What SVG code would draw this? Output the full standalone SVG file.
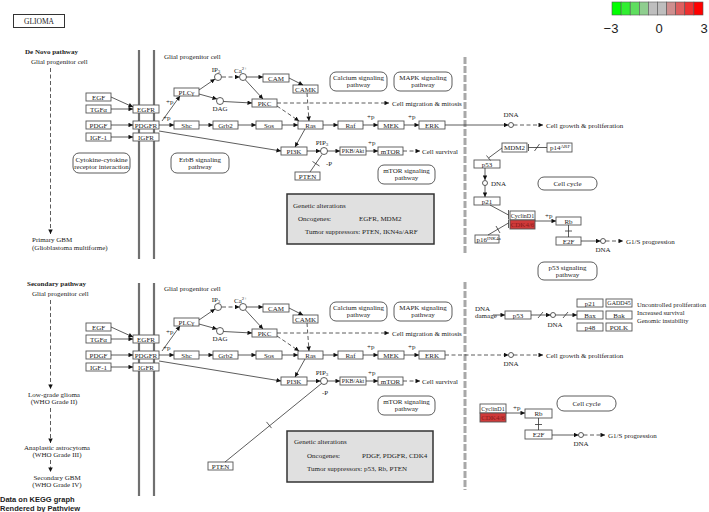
<svg xmlns="http://www.w3.org/2000/svg" width="709" height="512" viewBox="0 0 709 512">
<defs>
<marker id="ah" viewBox="0 0 10 10" refX="10" refY="5" markerWidth="5" markerHeight="4.5" markerUnits="userSpaceOnUse" orient="auto"><path d="M0,0 L10,5 L0,10 z" fill="#111"/></marker>
</defs>
<style>
text{font-family:"Liberation Serif","Times New Roman",serif;font-size:7px;fill:#222}
.c{text-anchor:middle}
.s6{font-size:6px}
.bx{fill:#fff;stroke:#555;stroke-width:0.9}
.red{fill:#cf3a3a;stroke:#555;stroke-width:0.9}
.rd{fill:#fff;stroke:#333;stroke-width:0.8}
.ln{fill:none;stroke:#333;stroke-width:0.8}
.ar{fill:none;stroke:#333;stroke-width:0.8;marker-end:url(#ah)}
.da{stroke-dasharray:4 2.5}
.mem{stroke:#707070;stroke-width:2.2}
.gd{stroke:#a8a8a8;stroke-width:3;stroke-dasharray:7 2}
.circ{fill:#fff;stroke:#333;stroke-width:0.8}
.ga{fill:#e0e0e0;stroke:#333;stroke-width:1.5}
.sub{font-size:5px}
.bold{font-weight:bold}
.sans{font-family:"Liberation Sans",Arial,sans-serif}
.leg{stroke:#555;stroke-width:0.6}
</style>
<rect width="709" height="512" fill="#fff"/>
<g style="opacity:0.999">

<!-- title -->
<g id="title"><rect x="13.5" y="14.5" width="51" height="13" fill="#fff" stroke="#333" stroke-width="1"/><text class="c" x="39" y="23.5" style="font-size:7.5px">GLIOMA</text></g>

<!-- legend -->
<g id="legend">
<rect class="leg" x="612" y="2" width="9.1" height="13" fill="#00ff00"/>
<rect class="leg" x="621.1" y="2" width="9.1" height="13" fill="#30ef30"/>
<rect class="leg" x="630.2" y="2" width="9.1" height="13" fill="#5fde5f"/>
<rect class="leg" x="639.3" y="2" width="9.1" height="13" fill="#8fce8f"/>
<rect class="leg" x="648.4" y="2" width="9.1" height="13" fill="#bebebe"/>
<rect class="leg" x="657.5" y="2" width="9.1" height="13" fill="#bebebe"/>
<rect class="leg" x="666.6" y="2" width="9.1" height="13" fill="#ce8f8f"/>
<rect class="leg" x="675.7" y="2" width="9.1" height="13" fill="#de5f5f"/>
<rect class="leg" x="684.8" y="2" width="9.1" height="13" fill="#ef3030"/>
<rect class="leg" x="693.9" y="2" width="9.1" height="13" fill="#ff0000"/>
<text class="sans c" x="611" y="33" style="font-size:13px">−3</text>
<text class="sans c" x="659" y="33" style="font-size:13px">0</text>
<text class="sans c" x="704" y="33" style="font-size:13px">3</text>
</g>

<!-- membranes and compartments -->
<g id="membranes">
<line class="mem" x1="139" y1="50" x2="139" y2="259"/>
<line class="mem" x1="154" y1="50" x2="154" y2="259"/>
<line class="mem" x1="139" y1="283" x2="139" y2="496"/>
<line class="mem" x1="154" y1="283" x2="154" y2="496"/>
<line class="gd" x1="465" y1="57" x2="465" y2="253"/>
<line class="gd" x1="465" y1="282" x2="465" y2="490"/>
</g>

<!-- left side labels -->
<g id="left-labels">
<text class="bold" x="25" y="54">De Novo pathway</text>
<text x="31" y="64">Glial progenitor cell</text>
<text x="164" y="59">Glial progenitor cell</text>
<text x="32" y="242">Primary GBM</text>
<text x="32" y="250">(Glioblastoma multiforme)</text>
<text class="bold" x="27" y="286">Secondary pathway</text>
<text x="32" y="296">Glial progenitor cell</text>
<text x="164" y="291">Glial progenitor cell</text>
<text class="c" x="54" y="397">Low-grade glioma</text>
<text class="c" x="54" y="404">(WHO Grade II)</text>
<text class="c" x="57" y="450">Anaplastic astrocytoma</text>
<text class="c" x="57" y="457">(WHO Grade III)</text>
<text class="c" x="57" y="480">Secondary GBM</text>
<text class="c" x="57" y="487">(WHO Grade IV)</text>
<text class="sans bold" x="0" y="502" style="font-size:7.5px">Data on KEGG graph</text>
<text class="sans bold" x="0" y="511" style="font-size:7.5px">Rendered by Pathview</text>
</g>

<!-- ============ TOP NODES ============ -->
<g id="t-egf"><rect class="bx" x="86" y="93" width="25" height="8"/><text class="c" x="98.5" y="99.5">EGF</text></g>
<g id="t-tgfa"><rect class="bx" x="86" y="105" width="25" height="8"/><text class="c" x="98.5" y="111.5">TGFα</text></g>
<g id="t-pdgf"><rect class="bx" x="86" y="121" width="25" height="8"/><text class="c" x="98.5" y="127.5">PDGF</text></g>
<g id="t-igf1"><rect class="bx" x="86" y="133" width="25" height="8"/><text class="c" x="98.5" y="139.5">IGF-1</text></g>
<g id="t-egfr"><rect class="bx" x="133" y="105" width="26" height="8"/><text class="c" x="146" y="111.5">EGFR</text></g>
<g id="t-pdgfr"><rect class="bx" x="133" y="121" width="26" height="8"/><text class="c" x="146" y="127.5">PDGFR</text></g>
<g id="t-igfr"><rect class="bx" x="133" y="133" width="26" height="8"/><text class="c" x="146" y="139.5">IGFR</text></g>
<g id="t-plcg"><rect class="bx" x="174" y="88" width="25" height="8"/><text class="c" x="186.5" y="94.5">PLCγ</text></g>
<g id="t-shc"><rect class="bx" x="174" y="121" width="25" height="8"/><text class="c" x="186.5" y="127.5">Shc</text></g>
<g id="t-grb2"><rect class="bx" x="213" y="121" width="25" height="8"/><text class="c" x="225.5" y="127.5">Grb2</text></g>
<g id="t-sos"><rect class="bx" x="256" y="121" width="26" height="8"/><text class="c" x="269" y="127.5">Sos</text></g>
<g id="t-ras"><rect class="bx" x="298" y="121" width="25" height="8"/><text class="c" x="310.5" y="127.5">Ras</text></g>
<g id="t-raf"><rect class="bx" x="338" y="121" width="25" height="8"/><text class="c" x="350.5" y="127.5">Raf</text></g>
<g id="t-mek"><rect class="bx" x="378" y="121" width="26" height="8"/><text class="c" x="391" y="127.5">MEK</text></g>
<g id="t-erk"><rect class="bx" x="419" y="121" width="26" height="8"/><text class="c" x="432" y="127.5">ERK</text></g>
<g id="t-cam"><rect class="bx" x="263" y="74" width="26" height="8"/><text class="c" x="276" y="80.5">CAM</text></g>
<g id="t-camk"><rect class="bx" x="293" y="85" width="25" height="8"/><text class="c" x="305.5" y="91.5">CAMK</text></g>
<g id="t-pkc"><rect class="bx" x="252" y="99" width="25" height="8"/><text class="c" x="264.5" y="105.5">PKC</text></g>
<g id="t-pi3k"><rect class="bx" x="281" y="147" width="26" height="8"/><text class="c" x="294" y="153.5">PI3K</text></g>
<g id="t-pkb"><rect class="bx" x="340" y="147" width="26" height="8"/><text class="c s6" x="353" y="153.3">PKB/Akt</text></g>
<g id="t-mtor"><rect class="bx" x="378" y="147" width="25" height="8"/><text class="c" x="390.5" y="153.5">mTOR</text></g>
<g id="t-pten"><rect class="bx" x="295" y="172" width="25" height="8"/><text class="c" x="307.5" y="178.5">PTEN</text></g>
<g id="t-ip3"><circle class="circ" cx="218" cy="77" r="3.5"/><text class="c" x="216" y="72">IP<tspan class="sub" dy="1">3</tspan></text></g>
<g id="t-ca"><circle class="circ" cx="243" cy="77" r="3.5"/><text x="234" y="73">Ca<tspan class="sub" dy="-3">2+</tspan></text></g>
<g id="t-dag"><circle class="circ" cx="220" cy="101" r="3.5"/><text class="c" x="220" y="110.5">DAG</text></g>
<g id="t-pip3"><circle class="circ" cx="324" cy="151" r="3.5"/><text class="c" x="322" y="145">PIP<tspan class="sub" dy="1">3</tspan></text></g>
<g id="t-cytokine"><rect class="rd" x="73" y="153" width="57" height="20" rx="6"/><text class="c" x="101.5" y="161.5">Cytokine-cytokine</text><text class="c" x="101.5" y="168.5">receptor interaction</text></g>
<g id="t-erbb"><rect class="rd" x="171" y="153" width="58" height="20" rx="6"/><text class="c" x="200" y="161.5">ErbB signaling</text><text class="c" x="200" y="168.5">pathway</text></g>
<g id="t-calcium"><rect class="rd" x="330" y="72" width="57" height="19" rx="6"/><text class="c" x="358.5" y="80">Calcium signaling</text><text class="c" x="358.5" y="87">pathway</text></g>
<g id="t-mapk"><rect class="rd" x="394" y="72" width="58" height="19" rx="6"/><text class="c" x="423" y="80">MAPK signaling</text><text class="c" x="423" y="87">pathway</text></g>
<g id="t-mtorsig"><rect class="rd" x="378" y="165" width="57" height="19" rx="6"/><text class="c" x="406.5" y="173">mTOR signaling</text><text class="c" x="406.5" y="180">pathway</text></g>
<g id="t-genetic"><rect class="ga" x="287" y="194" width="147" height="50"/><text x="293" y="208">Genetic alterations</text><text x="298" y="221">Oncogenes:</text><text x="359" y="221">EGFR, MDM2</text><text x="305" y="234">Tumor suppressors:  PTEN, IKN4a/ARF</text></g>

<!-- top right -->
<g id="t-dna1"><circle class="circ" cx="511" cy="125" r="2.5"/><text class="c" x="511" y="117">DNA</text></g>
<g id="t-growth"><text x="546" y="127.5">Cell growth &amp; proliferation</text></g>
<g id="t-mdm2"><rect class="bx" x="502" y="143" width="25" height="9"/><text class="c" x="514.5" y="150">MDM2</text></g>
<g id="t-p14"><rect class="bx" x="547" y="143" width="25" height="9"/><text x="550" y="150">p14<tspan class="sub" dy="-2">ARF</tspan></text></g>
<g id="t-p53"><rect class="bx" x="474" y="160" width="26" height="8"/><text class="c" x="487" y="166.5">p53</text></g>
<g id="t-dna2"><circle class="circ" cx="485" cy="183" r="2.5"/><text x="491" y="185.5">DNA</text></g>
<g id="t-p21"><rect class="bx" x="474" y="197" width="26" height="8"/><text class="c" x="487" y="203.5">p21</text></g>
<g id="t-cellcycle"><rect class="rd" x="538" y="177" width="59" height="13" rx="6"/><text class="c" x="567.5" y="186">Cell cycle</text></g>
<g id="t-cyclind1"><rect class="bx" x="510" y="211" width="25" height="9"/><text class="c s6" x="522.5" y="217.5">CyclinD1</text></g>
<g id="t-cdk46"><rect class="red" x="510" y="220" width="25" height="9"/><text class="c" x="522.5" y="227" style="fill:#8a1a1a">CDK4/6</text></g>
<g id="t-p16"><rect class="bx" x="475" y="235" width="24" height="8"/><text x="476.5" y="241.5">p16<tspan class="sub" dy="-2">INK4a</tspan></text></g>
<g id="t-rb"><rect class="bx" x="556" y="217" width="25" height="8"/><text class="c" x="568.5" y="223.5">Rb</text></g>
<g id="t-e2f"><rect class="bx" x="556" y="237" width="25" height="8"/><text class="c" x="568.5" y="243.5">E2F</text></g>
<g id="t-dna3"><circle class="circ" cx="603" cy="241" r="2.5"/><text class="c" x="603" y="252">DNA</text></g>
<g id="t-g1s"><text x="626" y="243.5">G1/S progression</text></g>
<g id="t-p53sig"><rect class="rd" x="538" y="262" width="59" height="18" rx="6"/><text class="c" x="567.5" y="270">p53 signaling</text><text class="c" x="567.5" y="277">pathway</text></g>

<!-- DNA damage group -->
<g id="m-dnadamage"><text x="475" y="311">DNA</text><text x="475" y="318">damage</text></g>
<g id="m-p53"><rect class="bx" x="505" y="311" width="26" height="8"/><text class="c" x="518" y="317.5">p53</text></g>
<g id="m-dna"><circle class="circ" cx="553" cy="315" r="2.5"/><text class="c" x="555" y="327">DNA</text></g>
<g id="m-p21"><rect class="bx" x="577" y="299" width="26" height="8"/><text class="c" x="590" y="305.5">p21</text></g>
<g id="m-gadd45"><rect class="bx" x="606" y="299" width="26" height="8"/><text class="c s6" x="619" y="305.3">GADD45</text></g>
<g id="m-bax"><rect class="bx" x="577" y="311" width="26" height="8"/><text class="c" x="590" y="317.5">Bax</text></g>
<g id="m-bak"><rect class="bx" x="606" y="311" width="26" height="8"/><text class="c" x="619" y="317.5">Bak</text></g>
<g id="m-p48"><rect class="bx" x="577" y="323" width="26" height="8"/><text class="c" x="590" y="329.5">p48</text></g>
<g id="m-polk"><rect class="bx" x="606" y="323" width="26" height="8"/><text class="c" x="619" y="329.5">POLK</text></g>
<g id="m-outcomes"><text x="637" y="307" style="font-size:6.5px" textLength="69" lengthAdjust="spacingAndGlyphs">Uncontrolled proliferation</text><text x="637" y="315" style="font-size:6.5px">Increased survival</text><text x="637" y="323" style="font-size:6.5px">Genomic instability</text></g>

<!-- ============ BOTTOM NODES ============ -->
<g id="b-egf"><rect class="bx" x="86" y="323" width="25" height="8"/><text class="c" x="98.5" y="329.5">EGF</text></g>
<g id="b-tgfa"><rect class="bx" x="86" y="335" width="25" height="8"/><text class="c" x="98.5" y="341.5">TGFα</text></g>
<g id="b-pdgf"><rect class="bx" x="86" y="351" width="25" height="8"/><text class="c" x="98.5" y="357.5">PDGF</text></g>
<g id="b-igf1"><rect class="bx" x="86" y="363" width="25" height="8"/><text class="c" x="98.5" y="369.5">IGF-1</text></g>
<g id="b-egfr"><rect class="bx" x="133" y="335" width="26" height="8"/><text class="c" x="146" y="341.5">EGFR</text></g>
<g id="b-pdgfr"><rect class="bx" x="133" y="351" width="26" height="8"/><text class="c" x="146" y="357.5">PDGFR</text></g>
<g id="b-igfr"><rect class="bx" x="133" y="363" width="26" height="8"/><text class="c" x="146" y="369.5">IGFR</text></g>
<g id="b-plcg"><rect class="bx" x="174" y="318" width="25" height="8"/><text class="c" x="186.5" y="324.5">PLCγ</text></g>
<g id="b-shc"><rect class="bx" x="174" y="351" width="25" height="8"/><text class="c" x="186.5" y="357.5">Shc</text></g>
<g id="b-grb2"><rect class="bx" x="213" y="351" width="25" height="8"/><text class="c" x="225.5" y="357.5">Grb2</text></g>
<g id="b-sos"><rect class="bx" x="256" y="351" width="26" height="8"/><text class="c" x="269" y="357.5">Sos</text></g>
<g id="b-ras"><rect class="bx" x="298" y="351" width="25" height="8"/><text class="c" x="310.5" y="357.5">Ras</text></g>
<g id="b-raf"><rect class="bx" x="338" y="351" width="25" height="8"/><text class="c" x="350.5" y="357.5">Raf</text></g>
<g id="b-mek"><rect class="bx" x="378" y="351" width="26" height="8"/><text class="c" x="391" y="357.5">MEK</text></g>
<g id="b-erk"><rect class="bx" x="419" y="351" width="26" height="8"/><text class="c" x="432" y="357.5">ERK</text></g>
<g id="b-cam"><rect class="bx" x="263" y="304" width="26" height="8"/><text class="c" x="276" y="310.5">CAM</text></g>
<g id="b-camk"><rect class="bx" x="293" y="315" width="25" height="8"/><text class="c" x="305.5" y="321.5">CAMK</text></g>
<g id="b-pkc"><rect class="bx" x="252" y="329" width="25" height="8"/><text class="c" x="264.5" y="335.5">PKC</text></g>
<g id="b-pi3k"><rect class="bx" x="281" y="377" width="26" height="8"/><text class="c" x="294" y="383.5">PI3K</text></g>
<g id="b-pkb"><rect class="bx" x="340" y="377" width="26" height="8"/><text class="c s6" x="353" y="383.3">PKB/Akt</text></g>
<g id="b-mtor"><rect class="bx" x="378" y="377" width="25" height="8"/><text class="c" x="390.5" y="383.5">mTOR</text></g>
<g id="b-pten"><rect class="bx" x="208" y="462" width="25" height="8"/><text class="c" x="220.5" y="468.5">PTEN</text></g>
<g id="b-ip3"><circle class="circ" cx="218" cy="307" r="3.5"/><text class="c" x="216" y="302">IP<tspan class="sub" dy="1">3</tspan></text></g>
<g id="b-ca"><circle class="circ" cx="243" cy="307" r="3.5"/><text x="234" y="303">Ca<tspan class="sub" dy="-3">2+</tspan></text></g>
<g id="b-dag"><circle class="circ" cx="220" cy="331" r="3.5"/><text class="c" x="220" y="340.5">DAG</text></g>
<g id="b-pip3"><circle class="circ" cx="324" cy="381" r="3.5"/><text class="c" x="322" y="375">PIP<tspan class="sub" dy="1">3</tspan></text></g>
<g id="b-calcium"><rect class="rd" x="330" y="302" width="57" height="19" rx="6"/><text class="c" x="358.5" y="310">Calcium signaling</text><text class="c" x="358.5" y="317">pathway</text></g>
<g id="b-mapk"><rect class="rd" x="394" y="302" width="58" height="19" rx="6"/><text class="c" x="423" y="310">MAPK signaling</text><text class="c" x="423" y="317">pathway</text></g>
<g id="b-mtorsig"><rect class="rd" x="378" y="396" width="57" height="19" rx="6"/><text class="c" x="406.5" y="404">mTOR signaling</text><text class="c" x="406.5" y="411">pathway</text></g>
<g id="b-genetic"><rect class="ga" x="287" y="431" width="146" height="51"/><text x="294" y="443.5">Genetic alterations</text><text x="307" y="457.5">Oncogenes:</text><text x="362" y="457.5">PDGF, PDGFR, CDK4</text><text x="307" y="470.5">Tumor suppressors:  p53, Rb, PTEN</text></g>
<g id="b-dna1"><circle class="circ" cx="511" cy="355" r="2.5"/><text class="c" x="511" y="366">DNA</text></g>
<g id="b-growth"><text x="546" y="357.5">Cell growth &amp; proliferation</text></g>
<g id="b-cellcycle"><rect class="rd" x="557" y="396" width="59" height="15" rx="7"/><text class="c" x="586.5" y="405.5">Cell cycle</text></g>
<g id="b-cyclind1"><rect class="bx" x="480" y="404" width="26" height="9"/><text class="c s6" x="493" y="410.5">CyclinD1</text></g>
<g id="b-cdk46"><rect class="red" x="480" y="413" width="26" height="9"/><text class="c" x="493" y="420" style="fill:#8a1a1a">CDK4/6</text></g>
<g id="b-rb"><rect class="bx" x="525" y="409" width="27" height="9"/><text class="c" x="538.5" y="416">Rb</text></g>
<g id="b-e2f"><rect class="bx" x="525" y="430" width="27" height="9"/><text class="c" x="538.5" y="437">E2F</text></g>
<g id="b-dna2"><circle class="circ" cx="581" cy="435" r="2.5"/><text class="c" x="581" y="446">DNA</text></g>
<g id="b-g1s"><text x="608" y="437.5">G1/S progression</text></g>

<!-- ============ CONNECTORS ============ -->
<g id="connectors">
<line class="ar da" x1="50.5" y1="68" x2="50.5" y2="234"/>
<line class="ar da" x1="50.5" y1="300" x2="50.5" y2="389"/>
<line class="ar da" x1="50.5" y1="408" x2="50.5" y2="443"/>
<line class="ar da" x1="50.5" y1="460" x2="50.5" y2="472"/>

<line class="ar" x1="111" y1="97" x2="133" y2="107"/>
<line class="ar" x1="111" y1="109" x2="133" y2="109"/>
<line class="ar" x1="111" y1="125" x2="133" y2="125"/>
<line class="ar" x1="111" y1="137" x2="133" y2="137"/>
<line class="ar" x1="162" y1="121" x2="180" y2="96"/>
<text x="166" y="104">+p</text>
<line class="ar" x1="159" y1="125" x2="174" y2="125"/>
<text x="163" y="120">+p</text>
<line class="ar" x1="199" y1="125" x2="213" y2="125"/>
<line class="ar" x1="238" y1="125" x2="256" y2="125"/>
<line class="ar" x1="282" y1="125" x2="298" y2="125"/>
<line class="ar" x1="323" y1="125" x2="338" y2="125"/>
<line class="ar" x1="363" y1="125" x2="378" y2="125"/>
<text x="367" y="119">+p</text>
<line class="ar" x1="404" y1="125" x2="419" y2="125"/>
<text x="408" y="119">+p</text>
<line class="ar" x1="199" y1="90" x2="215" y2="79"/>
<line class="ar" x1="199" y1="94" x2="217" y2="99"/>
<line class="ar da" x1="222" y1="77" x2="239.5" y2="77"/>
<line class="ar" x1="246.5" y1="77" x2="263" y2="77"/>
<line class="ar" x1="245.5" y1="80" x2="263" y2="99"/>
<line class="ar" x1="223.5" y1="101.5" x2="252" y2="103"/>
<line class="ar" x1="289" y1="78" x2="303" y2="85"/>
<line class="ar da" x1="307" y1="93" x2="309" y2="121"/>
<line class="ar da" x1="277" y1="106" x2="299" y2="121"/>
<line class="ar da" x1="277" y1="103" x2="389" y2="103"/>
<text x="392" y="105.5">Cell migration &amp; mitosis</text>
<line class="ar" x1="159" y1="131" x2="281" y2="151"/>
<line class="ar" x1="305" y1="129" x2="295" y2="147"/>
<line class="ar" x1="307" y1="151" x2="320.5" y2="151"/>
<line class="ar" x1="327.5" y1="151" x2="340" y2="151"/>
<line class="ar" x1="366" y1="151" x2="378" y2="151"/>
<text x="368" y="145">+p</text>
<line class="ar da" x1="403" y1="151" x2="420" y2="151"/>
<text x="422" y="153.5">Cell survival</text>
<line class="ln" x1="310" y1="172" x2="322" y2="154.5"/>
<line class="ln" x1="312.5" y1="161.5" x2="319.5" y2="166"/>
<text x="326" y="166">-P</text>
<line class="ar" x1="445" y1="125" x2="508.5" y2="125"/>
<line class="ar da" x1="513.5" y1="125" x2="543" y2="125"/>

<line class="ln" x1="547" y1="147.5" x2="528.5" y2="147.5"/>
<line class="ln" x1="528.5" y1="144" x2="528.5" y2="151"/>
<line class="ln" x1="534.5" y1="151" x2="539.5" y2="144"/>
<line class="ln" x1="502" y1="148" x2="488.5" y2="158"/>
<line class="ln" x1="486.5" y1="155.5" x2="490.5" y2="160.5"/>
<line class="ar" x1="485" y1="168" x2="485" y2="180"/>
<line class="ar" x1="485" y1="185.5" x2="485" y2="197"/>
<line class="ln" x1="490" y1="205" x2="508.5" y2="215"/>
<line class="ln" x1="508.5" y1="210" x2="508.5" y2="219"/>
<line class="ln" x1="488" y1="235" x2="508.5" y2="223"/>
<line class="ln" x1="496" y1="226" x2="500" y2="233"/>
<line class="ln" x1="508.5" y1="219.5" x2="508.5" y2="228"/>
<line class="ar" x1="535" y1="221" x2="556" y2="221"/>
<text x="545" y="218">+p</text>
<line class="ln" x1="568.5" y1="225" x2="568.5" y2="237"/>
<line class="ln" x1="565" y1="231" x2="572" y2="231"/>
<line class="ar" x1="581" y1="241" x2="600.5" y2="241"/>
<line class="ar da" x1="605.5" y1="241" x2="623" y2="241"/>

<line class="ar" x1="493" y1="315" x2="505" y2="315"/>
<line class="ar" x1="531" y1="315" x2="550.5" y2="315"/>
<line class="ln" x1="538" y1="318" x2="543" y2="312"/>
<line class="ar" x1="555.5" y1="315" x2="577" y2="315"/>
<line class="ln" x1="563" y1="318" x2="568" y2="312"/>

<line class="ar" x1="111" y1="327" x2="133" y2="337"/>
<line class="ar" x1="111" y1="339" x2="133" y2="339"/>
<line class="ar" x1="111" y1="355" x2="133" y2="355"/>
<line class="ar" x1="111" y1="367" x2="133" y2="367"/>
<line class="ar" x1="162" y1="351" x2="180" y2="326"/>
<text x="166" y="334">+p</text>
<line class="ar" x1="159" y1="355" x2="174" y2="355"/>
<text x="163" y="350">+p</text>
<line class="ar" x1="199" y1="355" x2="213" y2="355"/>
<line class="ar" x1="238" y1="355" x2="256" y2="355"/>
<line class="ar" x1="282" y1="355" x2="298" y2="355"/>
<line class="ar" x1="323" y1="355" x2="338" y2="355"/>
<line class="ar" x1="363" y1="355" x2="378" y2="355"/>
<text x="367" y="349">+p</text>
<line class="ar" x1="404" y1="355" x2="419" y2="355"/>
<text x="408" y="349">+p</text>
<line class="ar" x1="199" y1="320" x2="215" y2="309"/>
<line class="ar" x1="199" y1="324" x2="217" y2="329"/>
<line class="ar da" x1="222" y1="307" x2="239.5" y2="307"/>
<line class="ar" x1="246.5" y1="307" x2="263" y2="307"/>
<line class="ar" x1="245.5" y1="310" x2="263" y2="329"/>
<line class="ar" x1="223.5" y1="331.5" x2="252" y2="333"/>
<line class="ar" x1="289" y1="308" x2="303" y2="315"/>
<line class="ar da" x1="307" y1="323" x2="309" y2="351"/>
<line class="ar da" x1="277" y1="336" x2="299" y2="351"/>
<line class="ar da" x1="277" y1="333" x2="389" y2="333"/>
<text x="392" y="335.5">Cell migration &amp; mitosis</text>
<line class="ar" x1="159" y1="361" x2="281" y2="381"/>
<line class="ar" x1="305" y1="359" x2="295" y2="377"/>
<line class="ar" x1="307" y1="381" x2="320.5" y2="381"/>
<line class="ar" x1="327.5" y1="381" x2="340" y2="381"/>
<line class="ar" x1="366" y1="381" x2="378" y2="381"/>
<text x="368" y="375">+p</text>
<line class="ar da" x1="403" y1="381" x2="420" y2="381"/>
<text x="422" y="383.5">Cell survival</text>
<line class="ln" x1="225" y1="462" x2="321.5" y2="383.5"/>
<line class="ln" x1="266.5" y1="421.9" x2="271.5" y2="428.1"/>
<text x="322" y="395">-P</text>
<line class="ar da" x1="445" y1="355" x2="508.5" y2="355"/>
<line class="ar da" x1="513.5" y1="355" x2="543" y2="355"/>
<line class="ar" x1="506" y1="413" x2="525" y2="413"/>
<text x="513" y="410">+p</text>
<line class="ln" x1="538.5" y1="418" x2="538.5" y2="430"/>
<line class="ln" x1="535" y1="424.5" x2="542" y2="424.5"/>
<line class="ar" x1="552" y1="435" x2="578.5" y2="435"/>
<line class="ar da" x1="583.5" y1="435" x2="605" y2="435"/>
</g>
</g>
</svg>
